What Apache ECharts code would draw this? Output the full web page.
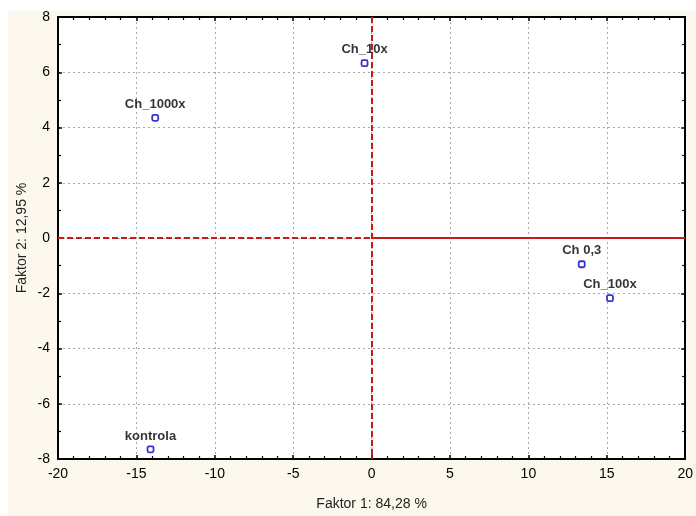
<!DOCTYPE html>
<html><head><meta charset="utf-8">
<script src="https://cdn.jsdelivr.net/npm/echarts@6/dist/echarts.min.js"></script>
<style>
html,body{margin:0;padding:0;background:#ffffff;width:696px;height:516px;overflow:hidden}
#bg{position:absolute;left:8px;top:11px;width:688px;height:505px;background:#fcf8ee}
#c{position:absolute;left:0;top:0;width:696px;height:516px}
</style></head>
<body><div id="bg"></div><div id="c"></div>
<script>
const names = ['Ch_1000x','Ch_10x','Ch 0,3','Ch_100x','kontrola'];
const factor1 = [-13.8, -0.45, 13.4, 15.2, -14.1];
const factor2 = [4.35, 6.33, -0.95, -2.18, -7.65];
const xTicks = [-20,-15,-10,-5,0,5,10,15,20];
const yTicks = [-8,-6,-4,-2,0,2,4,6,8];
const xName = 'Faktor 1: 84,28 %';
const yName = 'Faktor 2: 12,95 %';

const chart = echarts.init(document.getElementById('c'), null, {renderer:'canvas'});
const font = 'Arial, "Liberation Sans", sans-serif';
const gridLine = {show:true, lineStyle:{color:'#a8a8a8', width:1, type:[2,3]}};
const tick = {show:true, inside:true, length:4, lineStyle:{color:'#000', width:1.5}};
const minor = (n)=>({show:true, splitNumber:n, length:3, lineStyle:{color:'#000', width:1.2}});
const xmin = xTicks[0], xmax = xTicks[xTicks.length-1];
const ymin = yTicks[0], ymax = yTicks[yTicks.length-1];
chart.setOption({
  backgroundColor:'transparent',
  animation:false,
  grid:{left:58, right:10, top:17, bottom:57, show:true, backgroundColor:'#ffffff', borderWidth:0},
  xAxis:[{
    type:'value', min:xmin, max:xmax, interval:5,
    name:xName, nameLocation:'middle', nameGap:38, nameMoveOverlap:false,
    nameTextStyle:{fontFamily:font, fontSize:14, color:'#222'},
    axisLine:{show:true, onZero:false, lineStyle:{color:'#000', width:2}},
    axisTick:tick, minorTick:minor(5),
    axisLabel:{fontFamily:font, fontSize:14, color:'#000', margin:8},
    splitLine:gridLine
  },{
    type:'value', position:'top', min:xmin, max:xmax, interval:5,
    axisLine:{show:true, onZero:false, lineStyle:{color:'#000', width:2}},
    axisTick:tick, minorTick:minor(5), axisLabel:{show:false}, splitLine:{show:false}
  }],
  yAxis:[{
    type:'value', min:ymin, max:ymax, interval:2,
    name:yName, nameLocation:'middle', nameGap:29, nameRotate:90, nameMoveOverlap:false,
    nameTextStyle:{fontFamily:font, fontSize:14, color:'#222'},
    axisLine:{show:true, onZero:false, lineStyle:{color:'#000', width:2}},
    axisTick:tick, minorTick:minor(2),
    axisLabel:{fontFamily:font, fontSize:14, color:'#000', margin:8},
    splitLine:gridLine
  },{
    type:'value', position:'right', min:ymin, max:ymax, interval:2,
    axisLine:{show:true, onZero:false, lineStyle:{color:'#000', width:2}},
    axisTick:tick, minorTick:minor(2), axisLabel:{show:false}, splitLine:{show:false}
  }],
  series:[{
    type:'scatter',
    symbol:'roundRect', symbolSize:6,
    itemStyle:{color:'#ffffff', borderColor:'#0000c0', borderWidth:1.8},
    data:factor1.map((x,i)=>({value:[x,factor2[i]], name:names[i]})),
    label:{show:true, position:'top', distance:3, formatter:p=>p.name,
      fontFamily:font, fontSize:13, fontWeight:'bold', color:'#000'},
    markLine:{
      silent:true, symbol:'none', label:{show:false}, z:1,
      lineStyle:{color:'#cc1a1a', width:2, type:[6,3]},
      data:[
        [{coord:[xmin,0]},{coord:[0,0]}],
        [{coord:[0,0]},{coord:[xmax,0], lineStyle:{type:'solid', color:'#cc1a1a', width:2}}],
        [{coord:[0,ymax]},{coord:[0,ymin]}]
      ]
    },
    z:5
  }]
});
</script></body></html>
